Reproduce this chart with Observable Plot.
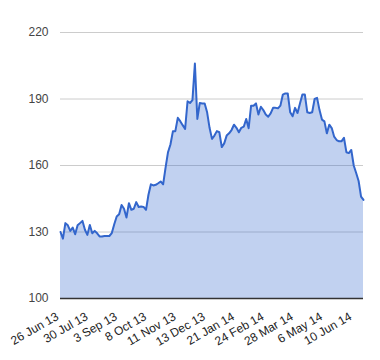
<!DOCTYPE html>
<html>
<head>
<meta charset="utf-8">
<script src="https://cdn.jsdelivr.net/npm/d3@7"></script>
<script src="https://cdn.jsdelivr.net/npm/@observablehq/plot@0.6"></script>
<style>
  html, body { margin: 0; padding: 0; background: #fff; }
</style>
</head>
<body>
<div id="chart"></div>
<script>
// Values read every 2nd trading day, 26 Jun 2013 – mid Jun 2014
const values = [
  130, 127, 134, 133, 130.5, 132, 129, 133, 134, 135,
  131, 128.7, 133.2, 129.4, 130.5, 129.4, 128, 128, 128.2, 128.2,
  128.2, 129.5, 133.5, 137, 138, 142.2, 140.5, 136.5, 143, 140,
  140.5, 143.5, 141.3, 141.5, 141.3, 140, 146.8, 151.5, 151, 151.3,
  152, 152.8, 151.5, 159, 166, 169.5, 175.4, 175.5, 181.5, 180,
  178.2, 176.5, 189, 188.2, 189.5, 206, 181, 188.2, 188, 188,
  184, 177, 172, 173.5, 175.5, 175, 168.3, 170, 173.5, 174.5,
  176, 178.4, 177, 175, 177, 177.5, 181, 176.8, 187, 187,
  188, 183, 186.5, 185, 183, 182, 183.5, 186, 186, 185.8,
  187, 192, 192.5, 192.5, 184, 182.2, 186, 183.7, 188, 192,
  192, 184, 183.7, 184, 190, 190.5, 185, 180.7, 179.9, 174.5,
  178.4, 176.9, 173, 171.5, 170.9, 170.9, 172.5, 166, 165.6, 167,
  160, 156.6, 153, 146, 144.5
];
const step = 2;
const tickIndex = [0, 24, 48, 72, 96, 120, 144, 168, 192, 216, 240];
const tickLabels = ["26 Jun 13", "30 Jul 13", "3 Sep 13", "8 Oct 13", "11 Nov 13",
  "13 Dec 13", "21 Jan 14", "24 Feb 14", "28 Mar 14", "6 May 14", "10 Jun 14"];
const yTicks = [100, 130, 160, 190, 220];

const data = values.map((v, k) => ({i: k * step, v}));

const chart = Plot.plot({
  width: 380,
  height: 360,
  marginTop: 32,
  marginBottom: 62,
  marginLeft: 60,
  marginRight: 17,
  style: {fontFamily: "'Liberation Sans', Arial, sans-serif", fontSize: "12px", color: "#222", background: "#fff"},
  x: {domain: [0, 248]},
  y: {domain: [100, 220]},
  marks: [
    Plot.ruleY(yTicks.slice(1), {stroke: "#cccccc", strokeWidth: 1}),
    Plot.areaY(data, {x: "i", y1: 100, y2: "v", fill: "#3366cc", fillOpacity: 0.3}),
    Plot.lineY(data, {x: "i", y: "v", stroke: "#3366cc", strokeWidth: 2}),
    Plot.ruleY([100], {stroke: "#333333", strokeWidth: 1.5}),
    Plot.axisY({ticks: yTicks, tickSize: 0, tickPadding: 12, fill: "#444", label: null}),
    Plot.axisX({ticks: tickIndex, tickFormat: d => tickLabels[tickIndex.indexOf(d)], tickRotate: -30, tickSize: 0, tickPadding: 17, dx: -3, fill: "#222", label: null})
  ]
});
document.getElementById("chart").appendChild(chart);
</script>
</body>
</html>
